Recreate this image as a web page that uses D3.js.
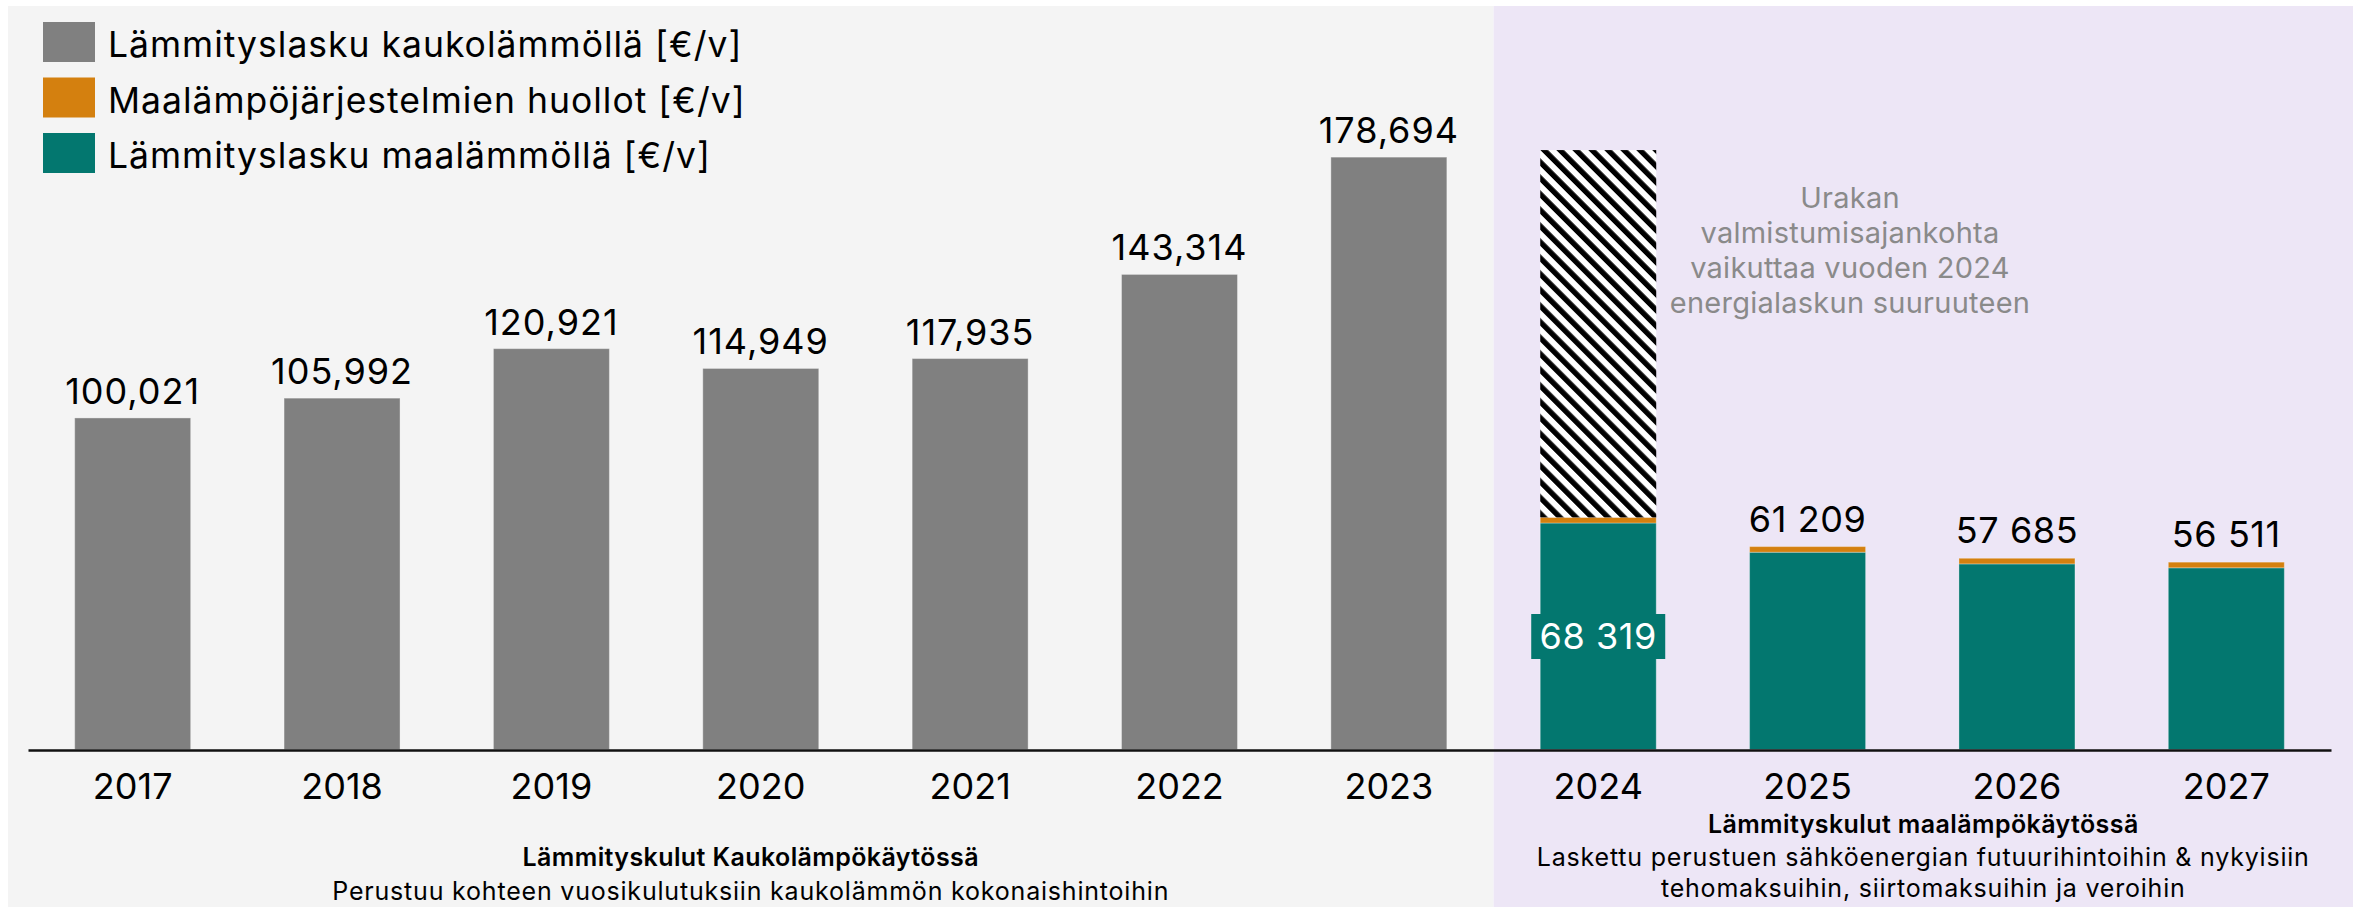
<!DOCTYPE html>
<html>
<head>
<meta charset="utf-8">
<script src="https://cdn.jsdelivr.net/npm/d3@7"></script>
<style>
  body { margin: 0; background: #fff; }
  svg { display: block; font-family: Inter, "Noto Sans", sans-serif; }
</style>
</head>
<body>
<svg id="chart"></svg>
<script>
// vuodet
const years = ["2017", "2018", "2019", "2020", "2021", "2022", "2023", "2024", "2025", "2026", "2027"];

// kaukolämpö (toteutunut)
const kaukoYears = ["2017", "2018", "2019", "2020", "2021", "2022", "2023"];
const kaukoValues = [100021, 105992, 120921, 114949, 117935, 143314, 178694];

// maalämpö (ennuste)
const maaYears = ["2024", "2025", "2026", "2027"];
const maaValues = [68319, 59509, 55985, 54811];
const huoltoValues = [1700, 1700, 1700, 1700];
const maaLabels = [68319, 61209, 57685, 56511];
// 2024 epävarma osuus (viivoitettu)
const epavarmaValue = [110800];

const legendLabels = [
  "Lämmityslasku kaukolämmöllä [€/v]",
  "Maalämpöjärjestelmien huollot [€/v]",
  "Lämmityslasku maalämmöllä [€/v]"
];
const noteLines = ["Urakan", "valmistumisajankohta", "vaikuttaa vuoden 2024", "energialaskun suuruuteen"];
const leftTitle = "Lämmityskulut Kaukolämpökäytössä";
const leftSub = ["Perustuu kohteen vuosikulutuksiin kaukolämmön kokonaishintoihin"];
const rightTitle = "Lämmityskulut maalämpökäytössä";
const rightSub = ["Laskettu perustuen sähköenergian futuurihintoihin & nykyisiin", "tehomaksuihin, siirtomaksuihin ja veroihin"];

const width = 2361, height = 908;
const gray = "#808080", orange = "#d4800f", teal = "#03776f";

const svg = d3.select("#chart")
  .attr("width", width)
  .attr("height", height)
  .attr("viewBox", [0, 0, width, height]);

const x = d3.scaleBand()
  .domain(years)
  .range([28, 2331])
  .paddingInner(0.446)
  .paddingOuter(0.223);

const y = d3.scaleLinear()
  .domain([0, 200000])
  .range([749.5, 749.5 - 200000 * 0.003315]);

const fmtComma = d3.format(",");
const fmtSpace = d3.formatLocale({decimal: ",", thousands: " ", grouping: [3]}).format(",");

// taustapaneelit
const split = x("2024") - x.step() * x.paddingInner() / 2;
svg.append("rect").attr("x", 8).attr("y", 6).attr("width", split - 8).attr("height", 901).attr("fill", "#f4f4f4");
svg.append("rect").attr("x", split).attr("y", 6).attr("width", 2353 - split).attr("height", 901).attr("fill", "#ede6f6");

// viivoitus
const defs = svg.append("defs");
const pat = defs.append("pattern")
  .attr("id", "hatch")
  .attr("patternUnits", "userSpaceOnUse")
  .attr("width", 11.3)
  .attr("height", 11.3)
  .attr("patternTransform", "rotate(-45)");
pat.append("rect").attr("width", 11.3).attr("height", 11.3).attr("fill", "#fff");
pat.append("rect").attr("width", 5.4).attr("height", 11.3).attr("fill", "#000");

// kaukolämpöpylväät
const kauko = kaukoYears.map((d, i) => ({year: d, value: kaukoValues[i]}));
svg.append("g")
  .selectAll("rect")
  .data(kauko)
  .join("rect")
  .attr("x", d => x(d.year))
  .attr("y", d => y(d.value))
  .attr("width", x.bandwidth())
  .attr("height", d => y(0) - y(d.value))
  .attr("fill", gray)
  .attr("stroke", "#fff")
  .attr("stroke-opacity", 0.35)
  .attr("stroke-width", 1);

svg.append("g")
  .attr("text-anchor", "middle")
  .attr("font-size", 36)
  .attr("letter-spacing", 1)
  .selectAll("text")
  .data(kauko)
  .join("text")
  .attr("x", d => x(d.year) + x.bandwidth() / 2)
  .attr("y", d => y(d.value) - 14)
  .attr("fill", "#000")
  .text(d => fmtComma(d.value));

// maalämpö, pinottuna
const maa = maaYears.map((d, i) => ({year: d, maalampo: maaValues[i], huolto: huoltoValues[i]}));
const stack = d3.stack().keys(["maalampo", "huolto"])(maa);
const stackColor = {maalampo: teal, huolto: orange};

svg.append("g")
  .selectAll("g")
  .data(stack)
  .join("g")
  .attr("fill", s => stackColor[s.key])
  .selectAll("rect")
  .data(s => s)
  .join("rect")
  .attr("x", d => x(d.data.year))
  .attr("y", d => y(d[1]))
  .attr("width", x.bandwidth())
  .attr("height", d => y(d[0]) - y(d[1]))
  .attr("stroke", "#fff")
  .attr("stroke-opacity", 0.3)
  .attr("stroke-width", 1);

// 2024 viivoitettu osa
const top2024 = maaValues[0] + huoltoValues[0];
svg.append("rect")
  .attr("x", x("2024"))
  .attr("y", y(top2024 + epavarmaValue[0]))
  .attr("width", x.bandwidth())
  .attr("height", y(top2024) - y(top2024 + epavarmaValue[0]))
  .attr("fill", "url(#hatch)");

// arvot
svg.append("g")
  .attr("text-anchor", "middle")
  .attr("font-size", 36)
  .attr("letter-spacing", 0.6)
  .selectAll("text")
  .data(maa.slice(1))
  .join("text")
  .attr("x", d => x(d.year) + x.bandwidth() / 2)
  .attr("y", (d, i) => y(d.maalampo + d.huolto) - 15)
  .attr("fill", "#000")
  .text((d, i) => fmtSpace(maaLabels[i + 1]));

// 2024 arvo laatikossa
const cx24 = x("2024") + x.bandwidth() / 2;
svg.append("rect")
  .attr("x", cx24 - 67)
  .attr("y", 614)
  .attr("width", 134)
  .attr("height", 45)
  .attr("fill", teal);
svg.append("text")
  .attr("x", cx24)
  .attr("y", 649)
  .attr("text-anchor", "middle")
  .attr("font-size", 36)
  .attr("letter-spacing", 0.6)
  .attr("fill", "#fff")
  .text(fmtSpace(maaLabels[0]));

// huomautus
svg.append("text")
  .attr("text-anchor", "middle")
  .attr("font-size", 29)
  .attr("letter-spacing", 0.25)
  .attr("fill", "#8a8a8a")
  .selectAll("tspan")
  .data(noteLines)
  .join("tspan")
  .attr("x", 1850)
  .attr("y", (d, i) => 208 + i * 35)
  .text(d => d);

// x-akseli
const axis = svg.append("g")
  .attr("transform", "translate(0,750)")
  .call(d3.axisBottom(x).tickSize(0).tickSizeOuter(0));
axis.select(".domain").attr("stroke", "#111").attr("stroke-width", 2.5);
axis.selectAll(".tick text")
  .attr("dy", null)
  .attr("y", 49)
  .attr("fill", "#000")
  .attr("font-size", 36)
  .attr("font-family", "Inter, 'Noto Sans', sans-serif");

// selitteet
const legendColors = [gray, orange, teal];
const legend = svg.append("g")
  .selectAll("g")
  .data(legendLabels)
  .join("g")
  .attr("transform", (d, i) => `translate(43,${22 + i * 55.5})`);
legend.append("rect")
  .attr("width", 52)
  .attr("height", 40)
  .attr("fill", (d, i) => legendColors[i]);
legend.append("text")
  .attr("x", 65)
  .attr("y", 35)
  .attr("font-size", 35.5)
  .attr("letter-spacing", 1)
  .attr("fill", "#000")
  .text(d => d);

// alaotsikot
const leftCx = (8 + split) / 2, rightCx = (split + 2353) / 2;
function sectionText(cx, titleY, title, lines) {
  const g = svg.append("g").attr("text-anchor", "middle").attr("fill", "#000");
  g.append("text")
    .attr("x", cx).attr("y", titleY)
    .attr("font-size", 25).attr("font-weight", 600)
    .attr("letter-spacing", 0.4)
    .text(title);
  g.selectAll(".sub")
    .data(lines)
    .join("text")
    .attr("class", "sub")
    .attr("x", cx)
    .attr("y", (d, i) => titleY + 33.5 + i * 31)
    .attr("font-size", 25)
    .attr("letter-spacing", 0.8)
    .text(d => d);
}
sectionText(leftCx, 866, leftTitle, leftSub);
sectionText(rightCx, 832.5, rightTitle, rightSub);
</script>
</body>
</html>
